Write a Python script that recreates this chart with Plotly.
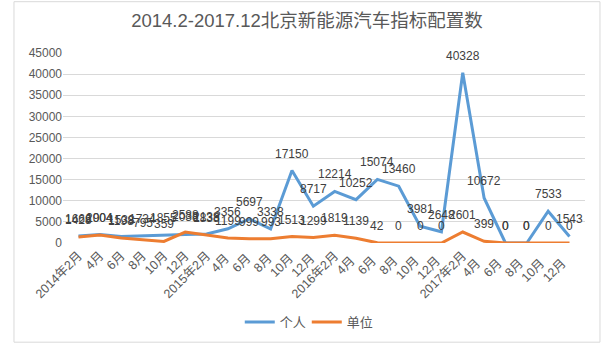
import plotly.graph_objects as go

categories = ["2014年2月", "4月", "6月", "8月", "10月", "12月",
              "2015年2月", "4月 ", "6月 ", "8月 ", "10月 ", "12月 ",
              "2016年2月", "4月  ", "6月  ", "8月  ", "10月  ", "12月  ",
              "2017年2月", "4月   ", "6月   ", "8月   ", "10月   ", "12月   "]
personal = [1666, 2004, 1538, 1734, 1855, 2038,
            2138, 3356, 5697, 3338, 17150, 8717,
            12214, 10252, 15074, 13460, 3981, 2648,
            40328, 10672, 0, 0, 7533, 1543]
unit = [1428, 1904, 1198, 795, 359, 2588,
        1838, 1199, 999, 993, 1513, 1299,
        1819, 1139, 42, 0, 0, 0,
        2601, 399, 0, 0, 0, 0]
series_names = ["个人", "单位"]
y_ticks = [0, 5000, 10000, 15000, 20000, 25000, 30000, 35000, 40000, 45000]
title = "2014.2-2017.12北京新能源汽车指标配置数"

FONT = "Liberation Sans, Noto Sans CJK SC, sans-serif"
colors = ["#5B9BD5", "#ED7D31"]

fig = go.Figure()
for name, vals, col in zip(series_names, [personal, unit], colors):
    fig.add_trace(go.Scatter(
        x=categories, y=vals, name=name, mode="lines",
        line=dict(color=col, width=3),
    ))
    for c, v in zip(categories, vals):
        fig.add_annotation(x=c, y=v, text=str(v), showarrow=False,
                           yshift=17, yanchor="middle", xanchor="center",
                           font=dict(size=12, color="#404040", family=FONT))

fig.update_layout(
    width=614, height=353,
    margin=dict(l=63, r=29, t=53, b=110),
    paper_bgcolor="white", plot_bgcolor="white",
    font=dict(family=FONT, color="#595959", size=11),
    title=dict(text=title, x=0.5, xanchor="center", y=0.943, yanchor="middle",
               font=dict(size=18.5, color="#595959", family=FONT)),
    legend=dict(orientation="h", x=0.467, xanchor="center", y=-0.416, yanchor="middle",
                font=dict(size=13, color="#595959"), itemwidth=30,
                entrywidth=22, entrywidthmode="pixels",
                traceorder="normal", bgcolor="rgba(0,0,0,0)"),
    showlegend=True,
)
fig.update_xaxes(type="category", showgrid=False, zeroline=False, showline=False,
                 tickangle=-45, ticks="", ticklabelstandoff=2,
                 tickfont=dict(size=12.5, color="#595959"))
fig.update_yaxes(range=[0, 45000], tickvals=y_ticks, tickformat="d",
                 showgrid=True, gridcolor="#D9D9D9",
                 gridwidth=1, zeroline=False, showline=False, ticks="",
                 tickfont=dict(size=12, color="#595959"))
fig.add_shape(type="rect", xref="paper", yref="paper",
              x0=-0.0939, x1=1.0287, y0=-0.522, y1=1.27,
              line=dict(color="#D9D9D9", width=1), fillcolor="rgba(0,0,0,0)", layer="below")

fig.write_html("out.html")
